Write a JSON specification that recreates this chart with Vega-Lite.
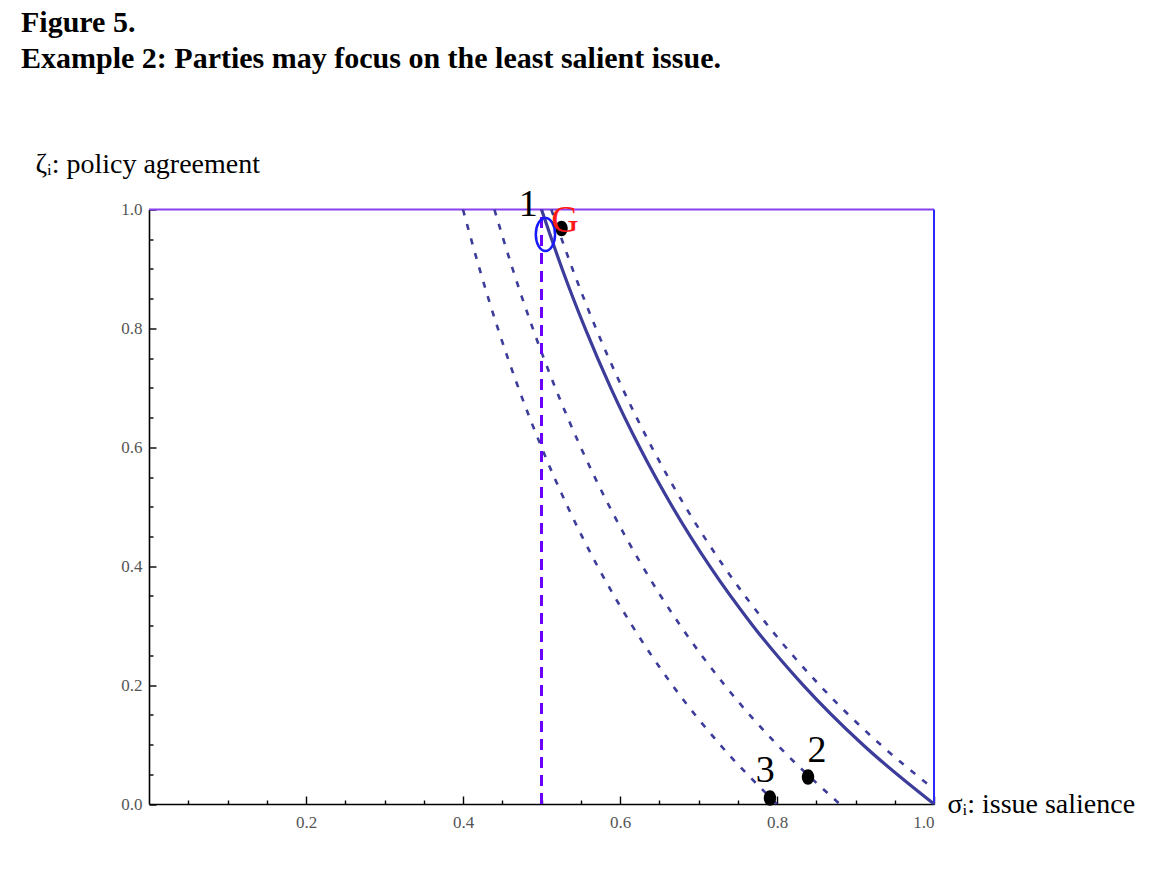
{
  "$schema": "https://vega.github.io/schema/vega-lite/v6.json",
  "width": 785,
  "height": 594.5,
  "autosize": {"type": "none"},
  "padding": {"left": 149, "top": 209.5, "right": 230, "bottom": 85},
  "background": "white",
  "title": {
    "text": ["Figure 5.", "Example 2: Parties may focus on the least salient issue."],
    "anchor": "start",
    "frame": "group",
    "orient": "top",
    "font": "Liberation Serif",
    "fontSize": 30,
    "fontWeight": "bold",
    "color": "black",
    "lineHeight": 36,
    "baseline": "alphabetic",
    "offset": 0,
    "dx": -128,
    "dy": -52
  },
  "datasets": {
    "curves": [
      {"c": "d1", "st": "dashed", "s": 0.4, "z": 1.0},
      {"c": "d1", "st": "dashed", "s": 0.4211, "z": 0.9},
      {"c": "d1", "st": "dashed", "s": 0.4444, "z": 0.8},
      {"c": "d1", "st": "dashed", "s": 0.4706, "z": 0.7},
      {"c": "d1", "st": "dashed", "s": 0.5, "z": 0.6},
      {"c": "d1", "st": "dashed", "s": 0.5333, "z": 0.5},
      {"c": "d1", "st": "dashed", "s": 0.5714, "z": 0.4},
      {"c": "d1", "st": "dashed", "s": 0.6154, "z": 0.3},
      {"c": "d1", "st": "dashed", "s": 0.6667, "z": 0.2},
      {"c": "d1", "st": "dashed", "s": 0.7273, "z": 0.1},
      {"c": "d1", "st": "dashed", "s": 0.8, "z": 0.0},
      {"c": "d2", "st": "dashed", "s": 0.44, "z": 1.0},
      {"c": "d2", "st": "dashed", "s": 0.4632, "z": 0.9},
      {"c": "d2", "st": "dashed", "s": 0.4889, "z": 0.8},
      {"c": "d2", "st": "dashed", "s": 0.5176, "z": 0.7},
      {"c": "d2", "st": "dashed", "s": 0.55, "z": 0.6},
      {"c": "d2", "st": "dashed", "s": 0.5867, "z": 0.5},
      {"c": "d2", "st": "dashed", "s": 0.6286, "z": 0.4},
      {"c": "d2", "st": "dashed", "s": 0.6769, "z": 0.3},
      {"c": "d2", "st": "dashed", "s": 0.7333, "z": 0.2},
      {"c": "d2", "st": "dashed", "s": 0.8, "z": 0.1},
      {"c": "d2", "st": "dashed", "s": 0.88, "z": 0.0},
      {"c": "d3", "st": "dashed", "s": 0.5125, "z": 1.0},
      {"c": "d3", "st": "dashed", "s": 0.5395, "z": 0.9},
      {"c": "d3", "st": "dashed", "s": 0.5694, "z": 0.8},
      {"c": "d3", "st": "dashed", "s": 0.6029, "z": 0.7},
      {"c": "d3", "st": "dashed", "s": 0.6406, "z": 0.6},
      {"c": "d3", "st": "dashed", "s": 0.6833, "z": 0.5},
      {"c": "d3", "st": "dashed", "s": 0.7321, "z": 0.4},
      {"c": "d3", "st": "dashed", "s": 0.7885, "z": 0.3},
      {"c": "d3", "st": "dashed", "s": 0.8542, "z": 0.2},
      {"c": "d3", "st": "dashed", "s": 0.9318, "z": 0.1},
      {"c": "d3", "st": "dashed", "s": 1.0, "z": 0.025},
      {"c": "s1", "st": "solid", "s": 0.5, "z": 1.0},
      {"c": "s1", "st": "solid", "s": 0.5263, "z": 0.9},
      {"c": "s1", "st": "solid", "s": 0.5556, "z": 0.8},
      {"c": "s1", "st": "solid", "s": 0.5882, "z": 0.7},
      {"c": "s1", "st": "solid", "s": 0.625, "z": 0.6},
      {"c": "s1", "st": "solid", "s": 0.6667, "z": 0.5},
      {"c": "s1", "st": "solid", "s": 0.7143, "z": 0.4},
      {"c": "s1", "st": "solid", "s": 0.7692, "z": 0.3},
      {"c": "s1", "st": "solid", "s": 0.8333, "z": 0.2},
      {"c": "s1", "st": "solid", "s": 0.9091, "z": 0.1},
      {"c": "s1", "st": "solid", "s": 1.0, "z": 0.0}
    ],
    "guides": [
      {"g": "half", "s": 0.5, "z": 0.0},
      {"g": "half", "s": 0.5, "z": 1.0},
      {"g": "top", "s": 0.0, "z": 1.0},
      {"g": "top", "s": 1.0, "z": 1.0},
      {"g": "right", "s": 1.0, "z": 0.0},
      {"g": "right", "s": 1.0, "z": 1.0}
    ],
    "points": [
      {"p": "1", "s": 0.5255, "z": 0.968},
      {"p": "2", "s": 0.8395, "z": 0.0455},
      {"p": "3", "s": 0.791, "z": 0.01}
    ],
    "ideal": [
      {"p": "O", "s": 0.505, "z": 0.958}
    ],
    "labels": [
      {"t": "1", "s": 0.483, "z": 1.007},
      {"t": "G", "s": 0.53, "z": 0.981},
      {"t": "2", "s": 0.851, "z": 0.089},
      {"t": "3", "s": 0.785, "z": 0.056}
    ]
  },
  "layer": [
    {
      "encoding": {
        "x": {
          "field": "s",
          "type": "quantitative",
          "scale": {"domain": [0, 1], "nice": false, "zero": false},
          "axis": {
            "orient": "bottom",
            "title": "σᵢ: issue salience",
            "titleFont": "Liberation Serif",
            "titleFontSize": 28,
            "titleFontWeight": "normal",
            "titleColor": "black",
            "titleAngle": 0,
            "titleAlign": "left",
            "titleBaseline": "alphabetic",
            "titleAnchor": null,
            "titleX": 798,
            "titleY": 8,
            "values": [0.2, 0.4, 0.6, 0.8, 1.0],
            "format": ".1f",
            "tickSize": -8,
            "labelPadding": 18,
            "grid": false
          }
        },
        "y": {
          "field": "z",
          "type": "quantitative",
          "scale": {"domain": [0, 1], "nice": false, "zero": false},
          "axis": {
            "orient": "left",
            "title": "ζᵢ: policy agreement",
            "titleFont": "Liberation Serif",
            "titleFontSize": 28,
            "titleFontWeight": "normal",
            "titleColor": "black",
            "titleAngle": 0,
            "titleAlign": "left",
            "titleBaseline": "alphabetic",
            "titleAnchor": null,
            "titleX": -114,
            "titleY": -37.5,
            "values": [0, 0.2, 0.4, 0.6, 0.8, 1.0],
            "format": ".1f",
            "tickSize": -7,
            "labelPadding": 14,
            "grid": false
          }
        }
      },
      "layer": [
        {
          "data": {"name": "guides"},
          "transform": [{"filter": "datum.g === 'top'"}],
          "mark": {"type": "line", "color": "#8a40f0", "strokeWidth": 2},
          "encoding": {}
        },
        {
          "data": {"name": "guides"},
          "transform": [{"filter": "datum.g === 'right'"}],
          "mark": {"type": "line", "color": "#2a2aff", "strokeWidth": 2},
          "encoding": {}
        },
        {
          "data": {"name": "curves"},
          "transform": [{"filter": "datum.st === 'dashed'"}],
          "mark": {"type": "line", "color": "#3c3c9a", "strokeWidth": 2.6, "strokeDash": [6, 9], "interpolate": "monotone"},
          "encoding": {"detail": {"field": "c"}}
        },
        {
          "data": {"name": "curves"},
          "transform": [{"filter": "datum.st === 'solid'"}],
          "mark": {"type": "line", "color": "#3c3c9a", "strokeWidth": 3.2, "interpolate": "monotone"},
          "encoding": {"detail": {"field": "c"}}
        },
        {
          "data": {"name": "guides"},
          "transform": [{"filter": "datum.g === 'half'"}],
          "mark": {"type": "line", "color": "#6a00ff", "strokeWidth": 3, "strokeDash": [11, 7]},
          "encoding": {}
        },
        {
          "data": {"name": "points"},
          "mark": {"type": "point", "shape": "M0,-1 A0.8,1 0 1,1 0,1 A0.8,1 0 1,1 0,-1 Z", "filled": true, "color": "black", "size": 240, "opacity": 1},
          "encoding": {}
        },
        {
          "data": {"name": "ideal"},
          "mark": {"type": "point", "shape": "M0,-1 A0.58,1 0 1,1 0,1 A0.58,1 0 1,1 0,-1 Z", "filled": false, "stroke": "#1a1aff", "strokeWidth": 2.5, "size": 1100, "opacity": 1},
          "encoding": {}
        },
        {
          "data": {"name": "labels"},
          "mark": {"type": "text", "font": "Liberation Serif", "fontSize": 38, "align": "center", "baseline": "middle"},
          "encoding": {
            "text": {"field": "t"},
            "color": {"field": "t", "type": "nominal", "scale": {"domain": ["1", "2", "3", "G"], "range": ["black", "black", "black", "#ff1a1a"]}, "legend": null}
          }
        }
      ]
    },
    {
      "data": {"name": "points"},
      "mark": {"type": "point", "opacity": 0},
      "encoding": {
        "x": {
          "field": "s",
          "type": "quantitative",
          "axis": {
            "orient": "bottom",
            "title": null,
            "values": [0.05, 0.1, 0.15, 0.25, 0.3, 0.35, 0.45, 0.5, 0.55, 0.65, 0.7, 0.75, 0.85, 0.9, 0.95],
            "labels": false,
            "domain": false,
            "tickSize": -4,
            "grid": false
          }
        },
        "y": {
          "field": "z",
          "type": "quantitative",
          "axis": {
            "orient": "left",
            "title": null,
            "values": [0.05, 0.1, 0.15, 0.25, 0.3, 0.35, 0.45, 0.5, 0.55, 0.65, 0.7, 0.75, 0.85, 0.9, 0.95],
            "labels": false,
            "domain": false,
            "tickSize": -4,
            "grid": false
          }
        }
      }
    }
  ],
  "resolve": {"axis": {"x": "independent", "y": "independent"}},
  "config": {
    "view": {"stroke": null},
    "axis": {
      "domainColor": "black",
      "domainWidth": 1.6,
      "tickColor": "black",
      "tickWidth": 1.4,
      "labelFont": "Liberation Serif",
      "labelFontSize": 17,
      "labelColor": "#555555"
    }
  }
}
